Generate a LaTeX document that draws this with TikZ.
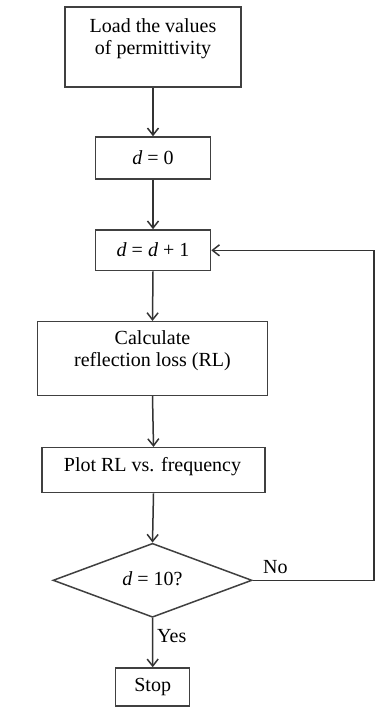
\documentclass[tikz,border=0pt]{standalone}
\usepackage{fontspec}
\setmainfont{Liberation Serif}
\usetikzlibrary{shapes.geometric,arrows.meta}
\begin{document}
\begin{tikzpicture}[x=1pt,y=-1pt,
 box/.style={draw=black!75, line width=1.5pt, inner sep=0pt, fill=white},
 lbl/.style={font=\fontsize{20}{22}\selectfont, align=center, inner sep=0pt, text=black},
 arr/.style={draw=black!80, line width=1.5pt, -{Straight Barb[length=7pt,width=11pt]}},
]
\useasboundingbox (0,0) rectangle (376,707);
% boxes
\node[box, minimum width=176pt, minimum height=80pt] (n1) at (153,47) {};
\node[lbl] (t1) at (153,39) {Load the values\\of permittivity};
\node[box, minimum width=115pt, minimum height=42pt] (n2) at (153,158) {};
\node[lbl] (t2) at (153,158) {\textit{d} = 0};
\node[box, minimum width=115pt, minimum height=40.7pt] (n3) at (153,250.3) {};
\node[lbl] (t3) at (153,249.5) {\textit{d} = \textit{d} + 1};
\node[box, minimum width=229.6pt, minimum height=73.6pt] (n4) at (152.5,358.5) {};
\node[lbl] (t4) at (152.5,351) {Calculate\\reflection loss (RL)};
\node[box, minimum width=223pt, minimum height=45pt] (n5) at (153.5,470.2) {};
\node[lbl] (t5) at (152.5,467) {Plot RL vs. frequency};
\node[box, diamond, minimum width=199pt, minimum height=74pt] (dia) at (152.5,580.3) {};
\node[lbl] (t6) at (152.5,579) {\textit{d} = 10?};
\node[box, minimum width=74pt, minimum height=38pt] (stop) at (152.7,687) {};
\node[lbl] (t7) at (152.7,686.5) {Stop};
% labels
\node[lbl, anchor=west] (no) at (263,567.5) {No};
\node[lbl, anchor=west] (yes) at (157,636.5) {Yes};
% connectors
\draw[arr] (n1.south) -- (n2.north);
\draw[arr] (n2.south) -- (n3.north);
\draw[arr] (n3.south) -- (n4.north);
\draw[arr] (n4.south) -- (n5.north);
\draw[arr] (n5.south) -- (dia.north);
\draw[arr] (dia.south) -- (stop.north);
\coordinate (cr) at (374,580.3);
\draw[arr] (dia.east) -- (cr) |- (n3.east);
\end{tikzpicture}
\end{document}
